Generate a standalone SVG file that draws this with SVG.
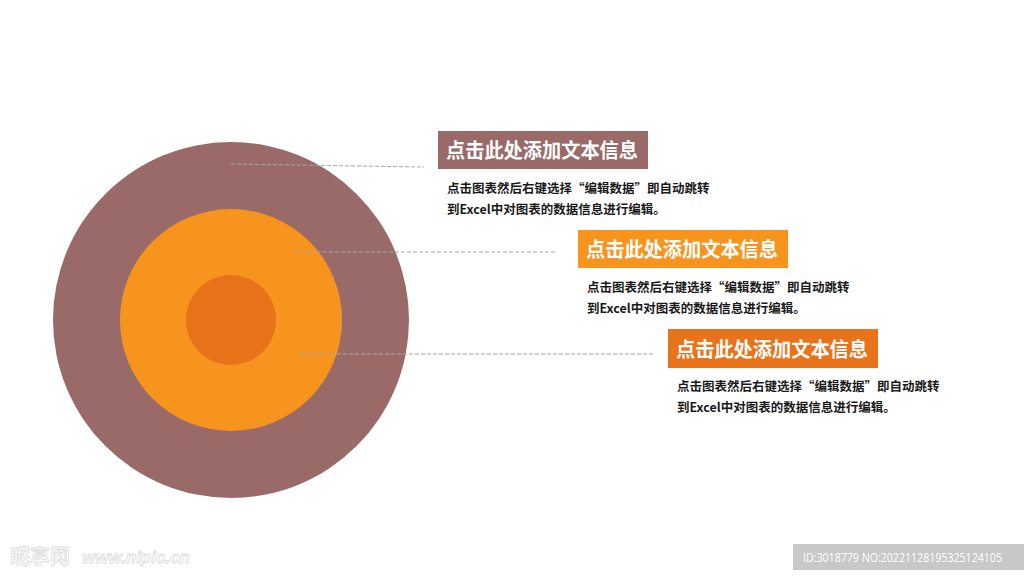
<svg xmlns="http://www.w3.org/2000/svg" width="1024" height="576" viewBox="0 0 1024 576">
<style>
.title{font-family:"Noto Sans CJK SC","Noto Sans",sans-serif;font-size:20px;font-weight:700;fill:#ffffff}
.body{font-family:"Noto Sans CJK SC","Noto Sans",sans-serif;font-size:12.5px;font-weight:700;fill:#1a1a1a}
.lead{stroke:#a8a8a8;stroke-width:1;stroke-dasharray:4 2;fill:none}
</style>
<rect width="1024" height="576" fill="#ffffff"/>
<g id="rings">
<circle cx="231" cy="320" r="178" fill="#9a6a69"/>
<circle cx="231" cy="320" r="111" fill="#f7941e"/>
<circle cx="231" cy="320" r="45" fill="#e8731a"/>
</g>
<g id="connectors">
<line class="lead" x1="231" y1="164" x2="424" y2="167"/>
<line class="lead" x1="293" y1="252" x2="557" y2="252"/>
<line class="lead" x1="301" y1="354" x2="655" y2="354"/>
</g>
<g id="node1">
<rect x="438" y="131" width="210" height="38" fill="#9a6a69"/>
<text class="title" x="446" y="158" textLength="192" lengthAdjust="spacingAndGlyphs">点击此处添加文本信息</text>
<text class="body" x="447" y="193">点击图表然后右键选择“编辑数据”即自动跳转</text>
<text class="body" x="447" y="214">到Excel中对图表的数据信息进行编辑。</text>
</g>
<g id="node2">
<rect x="578" y="230" width="210" height="38" fill="#f7941e"/>
<text class="title" x="586" y="257" textLength="192" lengthAdjust="spacingAndGlyphs">点击此处添加文本信息</text>
<text class="body" x="587" y="292">点击图表然后右键选择“编辑数据”即自动跳转</text>
<text class="body" x="587" y="313">到Excel中对图表的数据信息进行编辑。</text>
</g>
<g id="node3">
<rect x="668" y="329" width="210" height="39" fill="#e8731a"/>
<text class="title" x="676" y="357" textLength="192" lengthAdjust="spacingAndGlyphs">点击此处添加文本信息</text>
<text class="body" x="677" y="391">点击图表然后右键选择“编辑数据”即自动跳转</text>
<text class="body" x="677" y="412">到Excel中对图表的数据信息进行编辑。</text>
</g>
<g id="watermark">
<text x="10" y="564" font-family="Noto Sans CJK SC,sans-serif" font-size="20" font-weight="700" fill="#ffffff" stroke="#dcdcdc" stroke-width="0.8">昵享网</text>
<text x="82" y="563" font-family="Liberation Sans,sans-serif" font-size="17" font-weight="700" font-style="italic" fill="#ffffff" stroke="#dcdcdc" stroke-width="0.8">www.nipic.cn</text>
</g>
<g id="idbox">
<rect x="793" y="544" width="231" height="26" fill="#c8c8c8"/>
<text x="803" y="562" font-family="Open Sans,Liberation Sans,sans-serif" font-size="12" fill="#ffffff" textLength="199" lengthAdjust="spacingAndGlyphs">ID:3018779 NO:20221128195325124105</text>
</g>
</svg>
